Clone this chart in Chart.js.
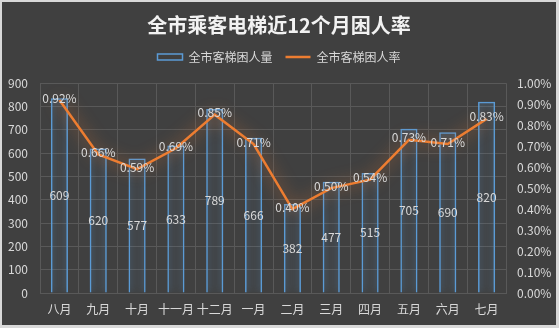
<!DOCTYPE html>
<html>
<head>
<meta charset="utf-8">
<script src="https://cdn.jsdelivr.net/npm/chart.js@4"></script>
<style>
  html, body { margin: 0; padding: 0; background: #d9d9d9; }
  #wrap { position: absolute; left: 2px; top: 2px; width: 554px; height: 323px; background: #404040; }
</style>
</head>
<body>
<div id="wrap"><canvas id="c" width="554" height="323"></canvas></div>
<script>
const months = ['八月', '九月', '十月', '十一月', '十二月', '一月', '二月', '三月', '四月', '五月', '六月', '七月'];
// bar heights as drawn (the first bar is drawn taller than its label says)
const trappedCount = [835, 620, 577, 633, 789, 666, 382, 477, 515, 705, 690, 820];
const countLabels = ['609', '620', '577', '633', '789', '666', '382', '477', '515', '705', '690', '820'];
// trapped rate, in percent
const trappedRate = [0.92, 0.66, 0.59, 0.69, 0.85, 0.71, 0.40, 0.50, 0.54, 0.73, 0.71, 0.83];

const FONT = "'Noto Sans CJK SC', 'Microsoft YaHei', sans-serif";
const TXT = '#d9d9d9';
const GRID = '#595959';
const BLUE = '#5b9bd5';
const ORANGE = '#ed7d31';

const glow = {
    id: 'glow',
    beforeDatasetDraw: function (chart, args) {
        const ctx = chart.ctx;
        ctx.save();
        if (args.meta.type === 'bar') {
            ctx.shadowColor = 'rgba(91,155,213,1)';
            ctx.shadowBlur = 8;
        } else {
            ctx.shadowColor = 'rgba(237,125,49,0.8)';
            ctx.shadowBlur = 16;
        }
    },
    afterDatasetDraw: function (chart) {
        chart.ctx.restore();
    }
};

const valueLabels = {
    id: 'valueLabels',
    afterDatasetsDraw: function (chart) {
        const ctx = chart.ctx;
        ctx.save();
        ctx.font = '12px ' + FONT;
        ctx.fillStyle = TXT;
        ctx.textAlign = 'center';
        ctx.textBaseline = 'middle';
        chart.getDatasetMeta(0).data.forEach(function (bar, i) {
            ctx.fillText(countLabels[i], bar.x, (bar.y + bar.base) / 2);
        });
        chart.getDatasetMeta(1).data.forEach(function (pt, i) {
            ctx.fillText(trappedRate[i].toFixed(2) + '%', pt.x, pt.y - 2);
        });
        ctx.restore();
    }
};

new Chart(document.getElementById('c'), {
    data: {
        labels: months,
        datasets: [
            {
                type: 'bar',
                label: '全市客梯困人量',
                data: trappedCount,
                backgroundColor: 'transparent',
                borderColor: BLUE,
                borderWidth: 1.5,
                barPercentage: 0.44,
                categoryPercentage: 1,
                yAxisID: 'y',
                order: 2
            },
            {
                type: 'line',
                label: '全市客梯困人率',
                data: trappedRate,
                borderColor: ORANGE,
                backgroundColor: ORANGE,
                borderWidth: 2.5,
                pointRadius: 0,
                tension: 0,
                yAxisID: 'y1',
                order: 1
            }
        ]
    },
    plugins: [glow, valueLabels],
    options: {
        responsive: false,
        animation: false,
        devicePixelRatio: 1,
        layout: { padding: 0 },
        plugins: {
            title: {
                display: true,
                text: '全市乘客电梯近12个月困人率',
                color: '#f2f2f2',
                font: { family: FONT, size: 20, weight: 'bold' },
                padding: { top: 11, bottom: 1 }
            },
            subtitle: {
                display: true,
                text: '',
                weight: 500,
                font: { size: 1 },
                padding: { top: 0, bottom: 9 }
            },
            legend: {
                position: 'top',
                labels: {
                    usePointStyle: true,
                    pointStyleWidth: 25,
                    boxHeight: 6,
                    padding: 13,
                    color: TXT,
                    font: { family: FONT, size: 12 },
                    generateLabels: function (chart) {
                        return chart.data.datasets.map(function (ds, i) {
                            const isBar = ds.type === 'bar';
                            return {
                                text: ds.label,
                                datasetIndex: i,
                                fillStyle: isBar ? 'transparent' : ORANGE,
                                strokeStyle: isBar ? BLUE : ORANGE,
                                lineWidth: isBar ? 1.5 : 2.5,
                                pointStyle: isBar ? 'rect' : 'line',
                                fontColor: TXT,
                                hidden: false
                            };
                        });
                    }
                }
            },
            tooltip: { enabled: false }
        },
        scales: {
            x: {
                grid: { color: GRID, drawTicks: false, offset: true },
                border: { color: GRID },
                ticks: { color: TXT, padding: 9, autoSkip: false, font: { family: FONT, size: 12 }, maxRotation: 0 },
                afterFit: function (s) { s.height = 32; }
            },
            y: {
                position: 'left',
                min: 0,
                max: 900,
                ticks: { stepSize: 100, color: TXT, padding: 12, font: { family: FONT, size: 12 } },
                grid: { color: GRID, drawTicks: false },
                border: { display: false },
                afterFit: function (s) { s.width = 38; }
            },
            y1: {
                position: 'right',
                min: 0,
                max: 1,
                ticks: {
                    stepSize: 0.1,
                    color: TXT,
                    padding: 11,
                    font: { family: FONT, size: 12 },
                    callback: function (v) { return v.toFixed(2) + '%'; }
                },
                grid: { drawOnChartArea: false, drawTicks: false },
                border: { display: false },
                afterFit: function (s) { s.width = 50; }
            }
        }
    }
});
</script>
</body>
</html>
